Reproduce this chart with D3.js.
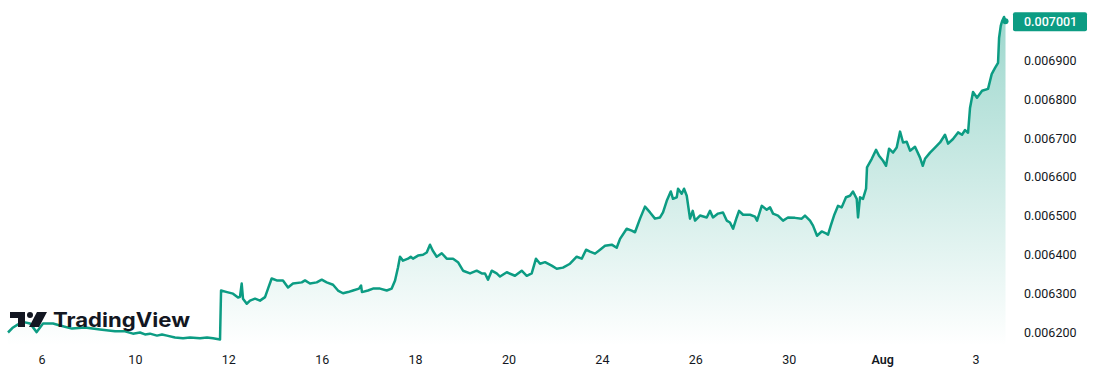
<!DOCTYPE html>
<html>
<head>
<meta charset="utf-8">
<script src="https://cdn.jsdelivr.net/npm/d3@7"></script>
<style>
  html, body { margin: 0; padding: 0; background: #ffffff; }
  svg { display: block; font-family: Roboto, "Noto Sans", sans-serif; }
</style>
</head>
<body>
<svg id="chart" width="1103" height="384"></svg>
<script>
// time position in bars (each axis label sits 100 bars apart)
const times = [-36.4,-31.0,-25.7,-18.2,-12.8,-5.7,1.1,11.8,19.3,32.1,46.0,62.1,78.2,88.9,97.4,104.9,110.3,115.6,123.1,128.5,
  133.8,142.4,151.0,158.5,169.2,176.7,183.1,190.6,191.7,198.1,204.5,209.9,212.0,213.8,215.2,219.2,222.7,228.1,233.4,238.8,
  242.0,245.9,251.3,258.0,263.4,268.7,278.1,281.6,286.9,294.1,299.5,304.8,311.6,316.9,322.3,327.6,333.0,339.4,341.6,342.6,
  349.0,354.4,361.9,369.1,374.4,378.0,381.2,383.3,386.5,391.9,394.8,397.2,402.6,407.9,411.9,415.4,418.3,422.6,428.0,433.3,
  440.1,445.4,450.8,458.3,465.4,470.8,474.3,477.5,481.5,486.8,490.4,497.6,506.4,513.6,519.0,524.3,528.9,533.2,538.6,545.7,
  551.1,557.8,565.3,572.5,577.9,582.5,586.7,592.1,597.5,602.8,610.0,615.3,618.9,626.0,631.4,634.9,640.3,645.6,651.0,656.3,
  661.7,664.9,668.9,673.2,675.6,679.6,681.0,684.9,687.4,690.3,693.8,696.7,699.2,704.5,711.7,715.2,718.4,723.8,729.1,733.1,
  736.6,739.9,743.8,746.3,750.6,758.1,763.4,765.6,770.6,775.9,779.5,782.7,788.0,793.4,798.7,806.2,813.4,816.9,822.3,825.5,
  829.8,834.8,839.4,841.6,844.5,848.0,852.3,856.2,860.8,865.1,868.3,872.3,873.7,875.8,879.0,882.3,883.3,888.4,893.0,896.2,
  900.5,903.7,906.9,911.2,915.1,918.7,921.9,925.8,929.4,934.7,940.1,943.0,945.4,950.8,956.1,961.5,966.8,970.1,975.4,980.8,
  985.0,988.3,991.5,993.6,996.8,1001.1,1006.5,1012.9,1016.8,1020.4,1023.6,1024.7,1026.5,1027.9,1030.0,1031.6];

const prices = [0.006200,0.006213,0.006221,0.006226,0.006223,0.006201,0.006223,0.006223,0.006218,0.006210,
  0.006213,0.006208,0.006203,0.006203,0.006197,0.006200,0.006195,0.006197,0.006192,0.006195,
  0.006192,0.006187,0.006185,0.006187,0.006185,0.006187,0.006185,0.006182,0.006308,0.006304,
  0.006300,0.006290,0.006292,0.006326,0.006287,0.006274,0.006282,0.006287,0.006282,0.006291,
  0.006313,0.006339,0.006334,0.006334,0.006316,0.006326,0.006329,0.006334,0.006326,0.006329,
  0.006336,0.006329,0.006323,0.006308,0.006301,0.006304,0.006308,0.006313,0.006321,0.006304,
  0.006308,0.006313,0.006313,0.006308,0.006313,0.006334,0.006368,0.006395,0.006385,0.006390,
  0.006395,0.006390,0.006398,0.006400,0.006406,0.006426,0.006411,0.006395,0.006404,0.006390,
  0.006390,0.006381,0.006359,0.006352,0.006359,0.006352,0.006352,0.006336,0.006359,0.006352,
  0.006344,0.006355,0.006346,0.006359,0.006346,0.006352,0.006390,0.006377,0.006381,0.006372,
  0.006364,0.006367,0.006377,0.006395,0.006390,0.006413,0.006408,0.006403,0.006413,0.006423,
  0.006426,0.006418,0.006441,0.006467,0.006462,0.006458,0.006493,0.006524,0.006509,0.006493,
  0.006496,0.006509,0.006539,0.006563,0.006544,0.006548,0.006570,0.006557,0.006570,0.006552,
  0.006493,0.006513,0.006488,0.006501,0.006496,0.006513,0.006496,0.006506,0.006509,0.006488,
  0.006483,0.006467,0.006496,0.006513,0.006503,0.006503,0.006498,0.006488,0.006526,0.006516,
  0.006522,0.006506,0.006501,0.006488,0.006496,0.006495,0.006493,0.006501,0.006488,0.006475,
  0.006449,0.006460,0.006455,0.006452,0.006475,0.006501,0.006526,0.006522,0.006548,0.006552,
  0.006563,0.006544,0.006496,0.006548,0.006544,0.006570,0.006625,0.006647,0.006670,0.006655,
  0.006642,0.006629,0.006673,0.006663,0.006676,0.006717,0.006689,0.006691,0.006668,0.006678,
  0.006650,0.006629,0.006647,0.006663,0.006676,0.006689,0.006709,0.006686,0.006698,0.006715,
  0.006709,0.006721,0.006714,0.006778,0.006819,0.006804,0.006822,0.006827,0.006865,0.006881,
  0.006894,0.006958,0.006989,0.007001,0.007012,0.007001];

const xTickPos = [0, 100, 200, 300, 400, 500, 600, 700, 800, 900, 1000];
const xTickLabels = ["6", "10", "12", "16", "18", "20", "24", "26", "30", "Aug", "3"];
const yTicks = [0.0062, 0.0063, 0.0064, 0.0065, 0.0066, 0.0067, 0.0068, 0.0069];
const lastPrice = 0.007001;

const data = times.map((t, i) => ({ t: t, v: prices[i] }));

const svg = d3.select("#chart");
const green = "#0c9c83";
const textColor = "#131722";
const paneBottom = 346;

const x = d3.scaleLinear().domain([0, 1000]).range([42, 976]);
const y = d3.scaleLinear().domain([0.0062, 0.0069]).range([332.5, 60.5]);

// area gradient
const defs = svg.append("defs");
const grad = defs.append("linearGradient")
  .attr("id", "areaGrad")
  .attr("gradientUnits", "userSpaceOnUse")
  .attr("x1", 0).attr("x2", 0)
  .attr("y1", y(d3.max(prices))).attr("y2", paneBottom);
grad.append("stop").attr("offset", "0%").attr("stop-color", green).attr("stop-opacity", 0.4);
grad.append("stop").attr("offset", "100%").attr("stop-color", green).attr("stop-opacity", 0);

const area = d3.area()
  .x(d => x(d.t))
  .y0(paneBottom)
  .y1(d => y(d.v));

const line = d3.line()
  .x(d => x(d.t))
  .y(d => y(d.v));

svg.append("path")
  .datum(data)
  .attr("d", area)
  .attr("fill", "url(#areaGrad)");

svg.append("path")
  .datum(data)
  .attr("d", line)
  .attr("fill", "none")
  .attr("stroke", green)
  .attr("stroke-width", 2.5)
  .attr("stroke-linejoin", "round");

const last = data[data.length - 1];
svg.append("circle")
  .attr("cx", x(last.t))
  .attr("cy", y(last.v))
  .attr("r", 3)
  .attr("fill", green);

// price scale labels
svg.append("g")
  .selectAll("text")
  .data(yTicks)
  .join("text")
  .attr("x", 1024)
  .attr("y", d => y(d))
  .attr("dy", "0.35em")
  .attr("font-size", 12.5)
  .attr("fill", textColor)
  .text(d => d3.format(".6f")(d));

// last price label
svg.append("rect")
  .attr("x", 1013)
  .attr("y", y(lastPrice) - 9)
  .attr("width", 74)
  .attr("height", 19)
  .attr("rx", 2)
  .attr("fill", green);
svg.append("text")
  .attr("x", 1024)
  .attr("y", y(lastPrice) + 0.5)
  .attr("dy", "0.35em")
  .attr("font-size", 12.5)
  .attr("font-weight", 500)
  .attr("fill", "#ffffff")
  .text(d3.format(".6f")(lastPrice));

// time scale labels
svg.append("g")
  .selectAll("text")
  .data(xTickPos)
  .join("text")
  .attr("x", d => x(d))
  .attr("y", 360)
  .attr("dy", "0.35em")
  .attr("text-anchor", "middle")
  .attr("font-size", 12.5)
  .attr("font-weight", (d, i) => xTickLabels[i] === "Aug" ? 600 : 400)
  .attr("fill", textColor)
  .text((d, i) => xTickLabels[i]);

// TradingView logo
const logo = svg.append("g").attr("transform", "translate(10,312)").attr("fill", textColor);
logo.append("path").attr("d", "M0 0H15V15H8V6H0Z");
logo.append("circle").attr("cx", 20).attr("cy", 3).attr("r", 3);
logo.append("path").attr("d", "M27 0H37L29 15H19Z");
logo.append("text")
  .attr("x", 43)
  .attr("y", 14.5)
  .attr("font-family", "Inter, 'Open Sans', sans-serif")
  .attr("font-size", 20)
  .attr("font-weight", 700)
  .attr("textLength", 137)
  .attr("lengthAdjust", "spacingAndGlyphs")
  .text("TradingView");
</script>
</body>
</html>
